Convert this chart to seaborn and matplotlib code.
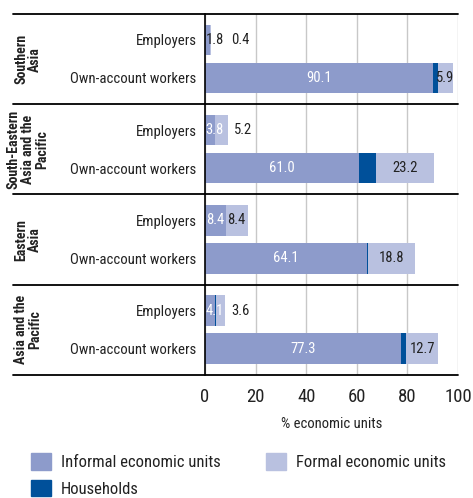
import numpy as np
import pandas as pd
import matplotlib.pyplot as plt
import seaborn as sns
from matplotlib.lines import Line2D
from matplotlib.patches import Patch

regions = ["Southern\nAsia", "South-Eastern\nAsia and the\nPacific", "Eastern\nAsia", "Asia and the\nPacific"]
statuses = ["Employers", "Own-account workers"]
informal = [[1.8, 90.1], [3.8, 61.0], [8.4, 64.1], [4.1, 77.3]]
households = [[0.0, 2.0], [0.0, 6.4], [0.0, 0.3], [0.3, 2.2]]
formal = [[0.4, 5.9], [5.2, 23.2], [8.4, 18.8], [3.6, 12.7]]
xticks = [0, 20, 40, 60, 80, 100]

C_INF = "#8d9bcb"
C_HH = "#00509a"
C_FOR = "#b9c1e0"
INK = "#222222"

sns.set_style("white")
plt.rcParams["font.family"] = ["Roboto Condensed", "DejaVu Sans"]

rows = []
for r, reg in enumerate(regions):
    for s, st in enumerate(statuses):
        rows.append({"region": reg, "status": st, "informal": informal[r][s],
                     "households": households[r][s], "formal": formal[r][s]})
df = pd.DataFrame(rows)
df["inf_hh"] = df["informal"] + df["households"]
df["total"] = df["inf_hh"] + df["formal"]

fig, axes = plt.subplots(4, 1, figsize=(4.73, 4.98), dpi=100, sharex=True)
fig.subplots_adjust(left=205 / 473, right=458 / 473, top=1 - 14 / 498, bottom=1 - 375 / 498, hspace=0)

for ax, reg in zip(axes, regions):
    d = df[df["region"] == reg]
    # stacked bars: draw cumulative totals back to front
    sns.barplot(data=d, x="total", y="status", order=statuses, color=C_FOR, width=0.8,
                linewidth=0, saturation=1, ax=ax, zorder=3)
    sns.barplot(data=d, x="inf_hh", y="status", order=statuses, color=C_HH, width=0.8,
                linewidth=0, saturation=1, ax=ax, zorder=3)
    sns.barplot(data=d, x="informal", y="status", order=statuses, color=C_INF, width=0.8,
                linewidth=0, saturation=1, ax=ax, zorder=3)
    ax.set_xlim(0, 100)
    ax.set_ylim(1.69, -0.68)
    ax.set_xlabel("")
    ax.set_ylabel("")
    ax.set_xticks(xticks)
    ax.grid(axis="x", color="#c8c8c8", lw=1, zorder=0)
    ax.set_axisbelow(True)
    for sp in ["top", "right", "bottom"]:
        ax.spines[sp].set_visible(False)
    ax.spines["left"].set_color("black")
    ax.spines["left"].set_linewidth(1.2)
    ax.spines["left"].set_zorder(5)
    ax.tick_params(axis="y", length=0, pad=6, labelsize=10.6, labelcolor=INK)
    ax.tick_params(axis="x", length=0, pad=9, labelsize=13.5, labelcolor=INK)

    for i, row in enumerate(d.itertuples()):
        if i == 0:
            col = "white" if row.informal >= 3 else INK
            ax.text(0.3, i, f"{row.informal:.1f}", ha="left", va="center", color=col,
                    fontsize=10.5, zorder=6)
            if row.formal >= 6:
                fx = row.inf_hh + 0.2
            else:
                fx = max(row.total + 2.5, 10.5)
            ax.text(fx, i, f"{row.formal:.1f}", ha="left", va="center", color=INK,
                    fontsize=10.5, zorder=6)
        else:
            ax.text(row.informal / 2, i, f"{row.informal:.1f}", ha="center", va="center",
                    color="white", fontsize=10.5, zorder=6)
            ax.text(row.inf_hh + row.formal / 2, i, f"{row.formal:.1f}", ha="center",
                    va="center", color=INK, fontsize=10.5, zorder=6)

    pos = ax.get_position()
    fig.text(28 / 473, (pos.y0 + pos.y1) / 2, reg, rotation=90, ha="center", va="center",
             multialignment="center", fontsize=10, fontweight="bold", color=INK,
             linespacing=1.0)

axes[-1].set_xlabel("% economic units", fontsize=10.5, color=INK, labelpad=8)

x0, x1 = 13 / 473, axes[0].get_position().x1
for ax in axes:
    y = ax.get_position().y1
    fig.add_artist(Line2D([x0, x1], [y, y], transform=fig.transFigure, color="black", lw=1.3))
yb = axes[-1].get_position().y0
fig.add_artist(Line2D([x0, x1], [yb, yb], transform=fig.transFigure, color="black", lw=1.3))

handles = [Patch(color=C_INF, label="Informal economic units"),
           Patch(color=C_HH, label="Households"),
           Patch(color=C_FOR, label="Formal economic units")]
fig.legend(handles=handles, loc="upper left", bbox_to_anchor=(31 / 473, 1 - 453 / 498), ncol=2,
           frameon=False, fontsize=12, handlelength=1.2, handleheight=1.15,
           handletextpad=0.6, columnspacing=2.7, labelspacing=0.6, borderpad=0,
           borderaxespad=0, labelcolor=INK)

fig.savefig("out.png", dpi=100)
